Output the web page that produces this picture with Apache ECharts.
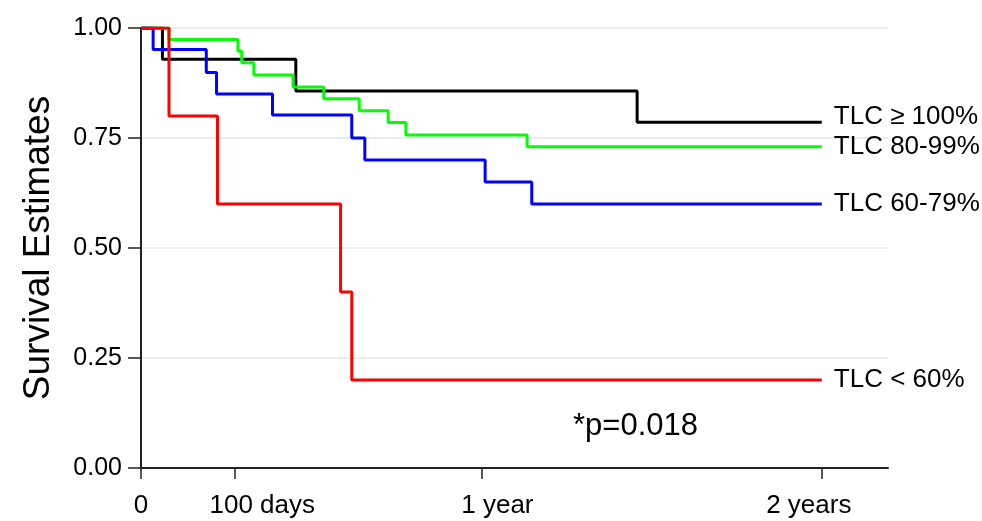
<!DOCTYPE html>
<html>
<head>
<meta charset="utf-8">
<script src="https://cdn.jsdelivr.net/npm/echarts@6/dist/echarts.min.js"></script>
<style>html,body{margin:0;padding:0;background:#fff}#c{width:982px;height:521px}</style>
</head>
<body>
<div id="c"></div>
<script>
// Kaplan-Meier step data (days, survival)
var blackDays = [0, 23, 166, 532, 730];
var blackSurv = [1, 0.929, 0.857, 0.786, 0.786];
var greenDays = [0, 30, 104, 108, 121, 163, 196, 234, 265, 284, 414, 730];
var greenSurv = [1, 0.974, 0.948, 0.921, 0.893, 0.866, 0.839, 0.812, 0.785, 0.757, 0.730, 0.730];
var blueDays = [0, 13, 70, 81, 141, 226, 240, 369, 419, 730];
var blueSurv = [1, 0.951, 0.899, 0.850, 0.802, 0.750, 0.700, 0.650, 0.600, 0.600];
var redDays = [0, 30, 82, 214, 226, 730];
var redSurv = [1, 0.8, 0.6, 0.4, 0.2, 0.2];
var seriesNames = ['TLC \u2265 100%', 'TLC 80-99%', 'TLC 60-79%', 'TLC < 60%'];
var seriesColors = ['#000000', '#00ff00', '#0000ff', '#ff0000'];
var xTickValues = [0, 100, 365, 730];
var xTickLabels = ['0', '100 days', '1 year', '2 years'];
var pText = '*p=0.018';

var FONT = 'Liberation Sans, Arial, Helvetica, sans-serif';
// horizontal nudges of x tick labels relative to their ticks (as in the reference)
var xLabelPad = [[0, 0, 0, 0], [0, 0, 0, 56], [0, 0, 0, 32], [0, 26, 0, 0]];

function zip(a, b) { return a.map(function (v, i) { return [v, b[i]]; }); }
var allDays = [blackDays, greenDays, blueDays, redDays];
var allSurv = [blackSurv, greenSurv, blueSurv, redSurv];
var labelOffsets = [[0, -5], [0, 0], [0, 0], [0, 0]];

var series = allDays.map(function (d, i) {
  return {
    name: seriesNames[i],
    type: 'line',
    step: 'end',
    data: zip(d, allSurv[i]),
    showSymbol: false,
    symbol: 'none',
    lineStyle: { color: seriesColors[i], width: 3 },
    itemStyle: { color: seriesColors[i] },
    endLabel: {
      show: true,
      formatter: seriesNames[i],
      color: '#000',
      fontFamily: FONT,
      fontSize: 26,
      distance: 12,
      offset: labelOffsets[i]
    },
    z: 2 + i
  };
});

var rich = {};
xTickLabels.forEach(function (t, i) {
  rich['l' + i] = { color: '#000', fontFamily: FONT, fontSize: 26, padding: xLabelPad[i] };
});

var chart = echarts.init(document.getElementById('c'), null, { renderer: 'canvas' });
chart.setOption({
  animation: false,
  backgroundColor: '#ffffff',
  grid: { left: 141, right: 94, top: 28, bottom: 53, containLabel: false },
  xAxis: {
    type: 'value',
    min: 0,
    max: 801,
    axisLine: { show: true, onZero: false, lineStyle: { color: '#222', width: 2 } },
    axisTick: { show: true, length: 11, lineStyle: { color: '#222', width: 1.5 }, customValues: xTickValues },
    axisLabel: {
      customValues: xTickValues,
      formatter: function (v) { var k = xTickValues.indexOf(v); return k >= 0 ? '{l' + k + '|' + xTickLabels[k] + '}' : ''; },
      rich: rich,
      color: '#000', fontFamily: FONT, fontSize: 26, margin: 25
    },
    splitLine: { show: false }
  },
  yAxis: {
    type: 'value',
    min: 0,
    max: 1,
    interval: 0.25,
    name: 'Survival Estimates',
    nameLocation: 'middle',
    nameRotate: 90,
    nameGap: 84,
    nameTextStyle: { color: '#000', fontFamily: FONT, fontSize: 37 },
    axisLine: { show: true, lineStyle: { color: '#222', width: 2 } },
    axisTick: { show: true, length: 13, lineStyle: { color: '#222', width: 1.5 } },
    axisLabel: {
      formatter: function (v) { return v.toFixed(2); },
      color: '#000', fontFamily: FONT, fontSize: 25, margin: 19
    },
    splitLine: { show: true, lineStyle: { color: '#e9eef3', width: 2 } }
  },
  graphic: [{
    type: 'text',
    left: 573,
    top: 411,
    style: { text: pText, fill: '#000', font: '31px ' + FONT }
  }],
  series: series
});
</script>
</body>
</html>
